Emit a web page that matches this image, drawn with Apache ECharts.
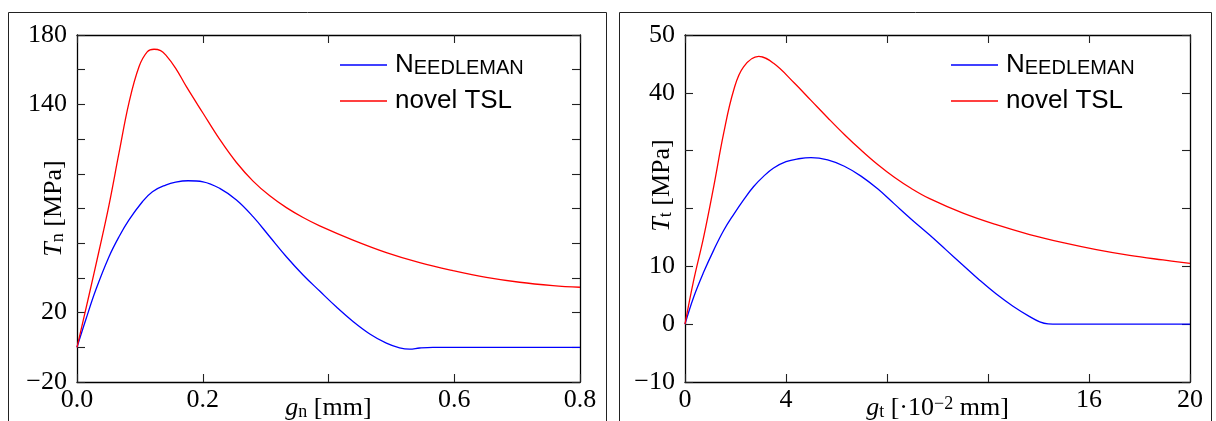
<!DOCTYPE html>
<html>
<head>
<meta charset="utf-8">
<script src="https://cdn.jsdelivr.net/npm/echarts@6/dist/echarts.min.js"></script>
<style>
html,body{margin:0;padding:0;background:#fff;}
#chart{width:1216px;height:421px;}
</style>
</head>
<body>
<div id="chart"></div>
<script>
// ---- data ----
const seriesNames = ['Needleman', 'novel TSL'];

// left panel: normal traction T_n [MPa] vs g_n [mm]
const leftNeedleman = [
  [0,0],[0.0138,15.7],[0.0298,33],[0.0509,52.2],[0.0668,63.7],[0.0827,73.4],[0.104,83.9],
  [0.12,89.7],[0.141,93.5],[0.157,95.2],[0.1766,96],[0.2005,95.4],[0.227,91.6],[0.2536,84.9],
  [0.28,75.3],[0.3066,63.7],[0.333,52.2],[0.3596,41.7],[0.386,32.4],[0.4127,23.2],
  [0.439,14.9],[0.4657,7.7],[0.492,2.4],[0.513,-0.3],[0.529,-1.1],[0.545,-0.4],[0.566,0],
  [0.6,0],[0.7,0],[0.8,0]
];
const leftNovel = [
  [0,0],[0.0191,30],[0.035,55.5],[0.0509,82],[0.0668,112],[0.0827,141],[0.0986,161.7],
  [0.112,170.4],[0.1225,171.8],[0.133,171],[0.141,168.5],[0.157,160.8],[0.174,150.2],
  [0.2005,134.9],[0.227,119.8],[0.2536,106.5],[0.28,95.8],[0.3066,87.3],[0.333,80.5],
  [0.3596,74.8],[0.386,70.0],[0.439,61.8],[0.492,54.6],[0.545,48.8],[0.598,44.2],
  [0.651,40.3],[0.704,37.5],[0.757,35.6],[0.8,34.6]
];
// right panel: tangential traction T_t [MPa] vs g_t [1e-2 mm]
const rightNeedleman = [
  [0,0],[0.345,4.7],[0.74,9.0],[1.137,12.8],[1.53,16.2],[1.93,19.0],[2.32,21.5],[2.72,23.8],
  [3.12,25.6],[3.51,27.0],[4.0,28.1],[4.5,28.6],[4.99,28.8],[5.65,28.4],[6.31,27.3],
  [6.97,25.6],[7.63,23.4],[8.29,20.8],[8.95,18.2],[9.69,15.4],[10.35,12.8],[11.01,10.2],
  [11.67,7.6],[12.33,5.2],[12.99,3.1],[13.65,1.3],[14.05,0.4],[14.38,0.05],[14.8,0],
  [16,0],[18,0],[20,0]
];
const rightNovel = [
  [0,0],[0.345,7.6],[0.74,15.1],[1.137,23.8],[1.53,33.0],[1.93,40.5],[2.32,44.5],[2.92,46.3],
  [3.51,45.1],[4.33,41.7],[4.99,38.7],[5.65,35.7],[6.31,32.8],[6.97,30.1],[7.63,27.6],
  [8.29,25.4],[8.95,23.5],[9.69,21.7],[11.01,19.2],[12.33,17.2],[13.65,15.5],[14.97,14.1],
  [16.29,12.9],[17.61,11.9],[18.93,11.1],[20,10.5]
];

// tick labels shown
const leftXLabels = ['0.0','0.2','0.6','0.8'];
const leftYLabels = [-20, 20, 140, 180];
const rightXLabels = [0, 4, 16, 20];
const rightYLabels = [-10, 0, 10, 40, 50];

// ---- chart ----
const serif = 'Liberation Serif';
const sans = 'Liberation Sans';
const fmtNum = v => (v < 0 ? '\u2212' + Math.abs(v) : String(v));

const nameRich = {
  i: {fontFamily: serif, fontStyle: 'italic', fontSize: 26, lineHeight: 26, verticalAlign: 'bottom', color: '#000'},
  r: {fontFamily: serif, fontSize: 26, lineHeight: 26, verticalAlign: 'bottom', color: '#000'},
  s: {fontFamily: serif, fontSize: 18, lineHeight: 10, verticalAlign: 'bottom', color: '#000'},
  p: {fontFamily: serif, fontSize: 18, lineHeight: 10, verticalAlign: 'top', color: '#000'}
};

const lineCol = '#000';
function baseAxis(extra) {
  return Object.assign({
    type: 'value',
    axisLine: {show: true, onZero: false, lineStyle: {color: lineCol, width: 1.3}},
    axisTick: {show: true, inside: true, length: 8, lineStyle: {color: '#222', width: 1.1}},
    splitLine: {show: false},
    axisLabel: {show: false},
    nameMoveOverlap: false
  }, extra);
}

const labelStyle = {fontFamily: serif, fontSize: 26, color: '#000'};

const xAxis = [
  baseAxis({gridIndex: 0, position: 'bottom', min: 0, max: 0.8, interval: 0.2,
    axisLabel: Object.assign({show: true, margin: 5, formatter: v => {
      const s = v.toFixed(1); return leftXLabels.includes(s) ? s : ''; }}, labelStyle),
    name: '{i|g}{s|n}{r| [mm]}', nameLocation: 'middle', nameGap: 13,
    nameTextStyle: {rich: nameRich}}),
  baseAxis({gridIndex: 0, position: 'top', min: 0, max: 0.8, interval: 0.2}),
  baseAxis({gridIndex: 1, position: 'bottom', min: 0, max: 20, interval: 4,
    axisLabel: Object.assign({show: true, margin: 5, formatter: v => rightXLabels.includes(v) ? String(v) : ''}, labelStyle),
    name: '{i|g}{s|t}{r| [\u00b710}{p|\u22122}{r| mm]}', nameLocation: 'middle', nameGap: 13,
    nameTextStyle: {rich: nameRich}}),
  baseAxis({gridIndex: 1, position: 'top', min: 0, max: 20, interval: 4})
];

const yAxis = [
  baseAxis({gridIndex: 0, position: 'left', min: -20, max: 180, interval: 20,
    axisLabel: Object.assign({show: true, margin: 10, formatter: v => leftYLabels.includes(v) ? fmtNum(v) : ''}, labelStyle),
    name: '{i|T}{s|n}{r| [MPa]}', nameLocation: 'middle', nameGap: 10, nameRotate: 90,
    nameTextStyle: {rich: nameRich}}),
  baseAxis({gridIndex: 0, position: 'right', min: -20, max: 180, interval: 20}),
  baseAxis({gridIndex: 1, position: 'left', min: -10, max: 50, interval: 10,
    axisLabel: Object.assign({show: true, margin: 10, formatter: v => rightYLabels.includes(v) ? fmtNum(v) : ''}, labelStyle),
    name: '{i|T}{s|t}{r| [MPa]}', nameLocation: 'middle', nameGap: 10, nameRotate: 90,
    nameTextStyle: {rich: nameRich, padding: [0, 0, 0, 46]}}),
  baseAxis({gridIndex: 1, position: 'right', min: -10, max: 50, interval: 10})
];

const colors = {Needleman: '#0000ff', 'novel TSL': '#ff0000'};
function mkSeries(name, data, xi, yi) {
  return {type: 'line', name, data, xAxisIndex: xi, yAxisIndex: yi, symbol: 'none',
    smooth: 0.4, lineStyle: {color: colors[name], width: 1.3}, itemStyle: {color: colors[name]},
    animation: false, z: 3};
}

const legendText = {
  fontFamily: sans, fontSize: 26, color: '#000', padding: [0, 0, 0, 3],
  rich: {
    a: {fontFamily: sans, fontSize: 26, lineHeight: 26, verticalAlign: 'bottom', color: '#000'},
    b: {fontFamily: sans, fontSize: 20, lineHeight: 20, verticalAlign: 'bottom', color: '#000'}
  }
};
const legendFmt = n => n === 'Needleman' ? '{a|N}{b|EEDLEMAN}' : '{a|novel TSL}';
function mkLegend(left) {
  return {data: seriesNames, orient: 'vertical', left, top: 52, padding: 0, icon: 'rect',
    itemWidth: 47, itemHeight: 1.3, itemGap: 10, textStyle: legendText, formatter: legendFmt,
    selectedMode: false};
}

const option = {
  backgroundColor: '#fff',
  animation: false,
  grid: [
    {left: 77, right: 636, top: 35, bottom: 39, outerBoundsMode: 'none', containLabel: false},
    {left: 685, right: 26, top: 35, bottom: 39, outerBoundsMode: 'none', containLabel: false}
  ],
  xAxis, yAxis,
  legend: [mkLegend(340), mkLegend(951)],
  graphic: [
    {type: 'rect', shape: {x: 8.5, y: 12.5, width: 598, height: 430}, style: {fill: 'none', stroke: '#222', lineWidth: 1}, silent: true},
    {type: 'rect', shape: {x: 619.5, y: 12.5, width: 592, height: 430}, style: {fill: 'none', stroke: '#222', lineWidth: 1}, silent: true}
  ],
  series: [
    mkSeries('Needleman', leftNeedleman, 0, 0),
    mkSeries('novel TSL', leftNovel, 0, 0),
    mkSeries('Needleman', rightNeedleman, 2, 2),
    mkSeries('novel TSL', rightNovel, 2, 2)
  ]
};

const chart = echarts.init(document.getElementById('chart'), null, {renderer: 'canvas'});
chart.setOption(option);
</script>
</body>
</html>
